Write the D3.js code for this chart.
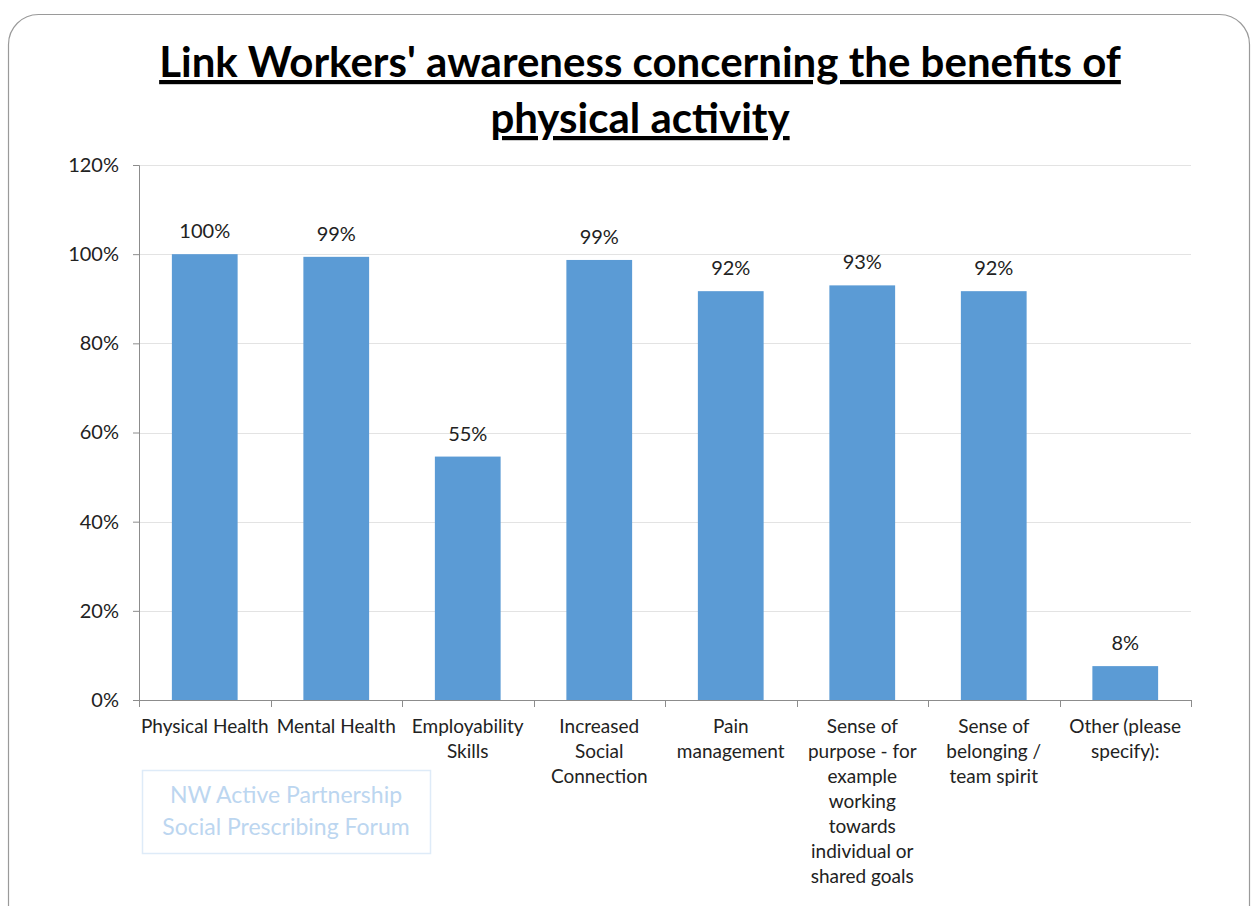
<!DOCTYPE html>
<html>
<head>
<meta charset="utf-8">
<style>
body { margin: 0; background: #fff; }
svg { display: block; font-family: Lato, "Open Sans", sans-serif; }
</style>
</head>
<body>
<div id="chart"></div>
<script src="https://d3js.org/d3.v7.min.js"></script>
<script>
// Chart data
var categories = [
  ["Physical Health"],
  ["Mental Health"],
  ["Employability", "Skills"],
  ["Increased", "Social", "Connection"],
  ["Pain", "management"],
  ["Sense of", "purpose - for", "example", "working", "towards", "individual or", "shared goals"],
  ["Sense of", "belonging /", "team spirit"],
  ["Other (please", "specify):"]
];
var values = [1.00, 0.994, 0.546, 0.987, 0.917, 0.93, 0.917, 0.076];
var valueLabels = ["100%", "99%", "55%", "99%", "92%", "93%", "92%", "8%"];
var yTicks = [0, 0.2, 0.4, 0.6, 0.8, 1.0, 1.2];
var titleLines = ["Link Workers' awareness concerning the benefits of", "physical activity"];
var watermark = ["NW Active Partnership", "Social Prescribing Forum"];

var W = 1258, H = 906;
var margin = { top: 165, right: 67, bottom: 206, left: 139 };
var width = W - margin.left - margin.right;
var height = H - margin.top - margin.bottom;

var svg = d3.select("#chart").append("svg")
  .attr("width", W)
  .attr("height", H);

// slide frame with rounded corners
svg.append("rect")
  .attr("x", 8.5).attr("y", 14.5)
  .attr("width", 1241).attr("height", 940)
  .attr("rx", 30).attr("ry", 30)
  .attr("fill", "none")
  .attr("stroke", "#9a9a9a")
  .attr("stroke-width", 1.2);

// title
titleLines.forEach(function(t, i) {
  svg.append("text")
    .attr("x", 640)
    .attr("y", 77 + i * 56)
    .attr("text-anchor", "middle")
    .style("font-size", "42px")
    .style("font-weight", "bold")
    .style("fill", "#000")
    .style("text-decoration", "underline")
    .text(t);
});

var g = svg.append("g")
  .attr("transform", "translate(" + margin.left + "," + margin.top + ")");

var x = d3.scaleBand()
  .domain(d3.range(categories.length))
  .range([0, width])
  .paddingInner(0.5)
  .paddingOuter(0.25);

var y = d3.scaleLinear()
  .domain([0, 1.2])
  .range([height, 0]);

// gridlines
g.selectAll(".grid")
  .data(yTicks.slice(1))
  .enter().append("line")
  .attr("x1", 0).attr("x2", width)
  .attr("y1", function(d) { return Math.round(y(d)) + 0.5; })
  .attr("y2", function(d) { return Math.round(y(d)) + 0.5; })
  .attr("stroke", "#e3e3e3");

// bars
g.selectAll(".bar")
  .data(values)
  .enter().append("rect")
  .attr("x", function(d, i) { return x(i); })
  .attr("y", function(d) { return y(d); })
  .attr("width", x.bandwidth())
  .attr("height", function(d) { return height - y(d); })
  .attr("fill", "#5b9bd5");

// value labels
g.selectAll(".vlab")
  .data(values)
  .enter().append("text")
  .attr("x", function(d, i) { return x(i) + x.bandwidth() / 2; })
  .attr("y", function(d) { return y(d) - 16; })
  .attr("text-anchor", "middle")
  .style("font-size", "20px")
  .style("fill", "#222")
  .text(function(d, i) { return valueLabels[i]; });

// y axis
var yAxis = g.append("g")
  .call(d3.axisLeft(y).tickValues(yTicks).tickFormat(d3.format(".0%")).tickSize(6).tickPadding(14));
yAxis.select(".domain").attr("stroke", "#8c8c8c");
yAxis.selectAll(".tick line").attr("stroke", "#8c8c8c");
yAxis.selectAll("text")
  .style("font-size", "20px")
  .style("font-family", "Lato, 'Open Sans', sans-serif")
  .attr("fill", "#222");

// x axis
var step = width / categories.length;
var xAxis = g.append("g").attr("transform", "translate(0," + height + ")");
xAxis.append("line")
  .attr("x1", 0).attr("x2", width)
  .attr("y1", 0.5).attr("y2", 0.5)
  .attr("stroke", "#8c8c8c");
xAxis.selectAll(".xt")
  .data(d3.range(categories.length + 1))
  .enter().append("line")
  .attr("x1", function(d) { return Math.round(d * step) + 0.5; })
  .attr("x2", function(d) { return Math.round(d * step) + 0.5; })
  .attr("y1", 0).attr("y2", 7)
  .attr("stroke", "#8c8c8c");

categories.forEach(function(lines, i) {
  var t = xAxis.append("text")
    .attr("text-anchor", "middle")
    .attr("x", x(i) + x.bandwidth() / 2)
    .attr("y", 33)
    .style("font-size", "19px")
    .style("fill", "#222");
  lines.forEach(function(l, j) {
    t.append("tspan")
      .attr("x", x(i) + x.bandwidth() / 2)
      .attr("dy", j === 0 ? 0 : 25)
      .text(l);
  });
});

// watermark box
svg.append("rect")
  .attr("x", 142.5).attr("y", 770.5)
  .attr("width", 288).attr("height", 83)
  .attr("fill", "none")
  .attr("stroke", "#deebf8")
  .attr("stroke-width", 1.5);
watermark.forEach(function(t, i) {
  svg.append("text")
    .attr("x", 286)
    .attr("y", 803 + i * 32)
    .attr("text-anchor", "middle")
    .style("font-size", "23px")
    .style("fill", "#bcd6f0")
    .text(t);
});
</script>
</body>
</html>
